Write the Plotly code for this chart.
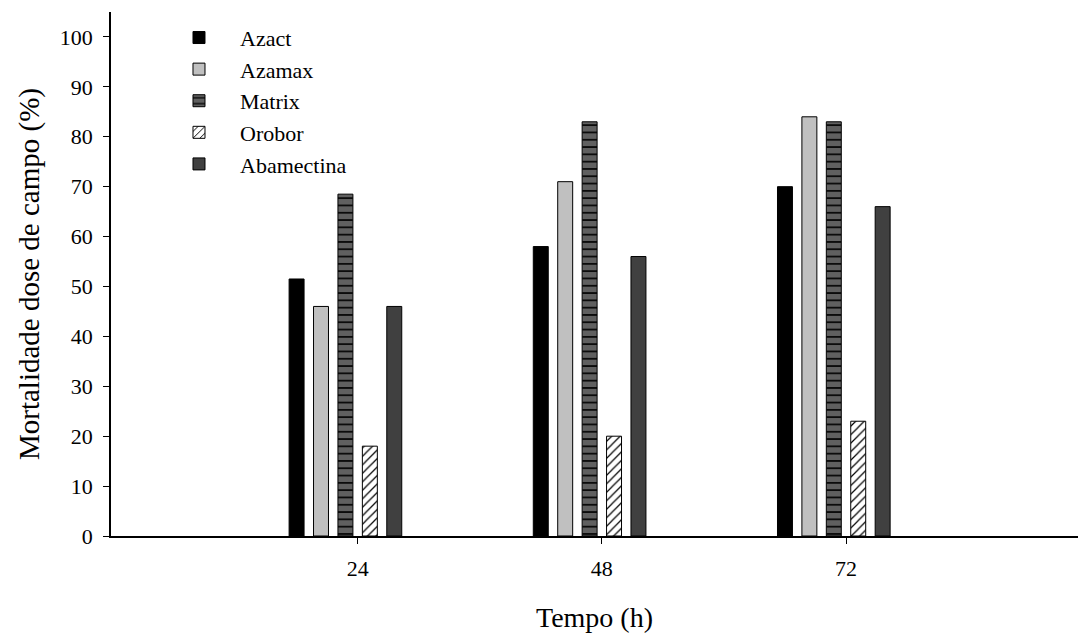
import plotly.graph_objects as go

times = ["24", "48", "72"]
series = ["Azact", "Azamax", "Matrix", "Orobor", "Abamectina"]
azact = [51.5, 58, 70]
azamax = [46, 71, 84]
matrix = [68.5, 83, 83]
orobor = [18, 20, 23]
abamectina = [46, 56, 66]
values = [azact, azamax, matrix, orobor, abamectina]

yticks = list(range(0, 101, 10))

styles = [
    dict(color="#000000"),
    dict(color="#c0c0c0"),
    dict(color="#606060", pattern=dict(shape="-", fgcolor="#000000", bgcolor="#606060", size=7.3, solidity=0.22, fillmode="replace")),
    dict(color="#ffffff", pattern=dict(shape="/", fgcolor="#000000", bgcolor="#ffffff", size=6, solidity=0.2, fillmode="replace")),
    dict(color="#404040"),
]

xpos = list(range(len(times)))
fig = go.Figure()
for name, vals, st in zip(series, values, styles):
    fig.add_trace(go.Bar(
        x=xpos, y=vals, name=name,
        marker=dict(line=dict(color="#000000", width=1), **st),
    ))

font_family = "Liberation Serif, Times New Roman, serif"
fig.update_layout(
    width=1079, height=633,
    margin=dict(l=111, r=1, t=12, b=97),
    paper_bgcolor="white", plot_bgcolor="white",
    barmode="group", bargap=0.5, bargroupgap=0.387,
    font=dict(family=font_family, size=22, color="#000000"),
    showlegend=True,
    legend=dict(
        x=0.0486, y=0.991, xanchor="left", yanchor="top",
        bgcolor="rgba(0,0,0,0)", font=dict(family=font_family, size=22),
        tracegroupgap=0, itemwidth=72,
    ),
    xaxis=dict(
        range=[-0.96, 3.0],
        tickvals=[i + 0.05 for i in xpos], ticktext=times,
        showline=True, linecolor="#000000", linewidth=1.5,
        ticks="outside", ticklen=6, tickwidth=1, tickcolor="#000000",
        showgrid=False, zeroline=False,
        ticklabelstandoff=6,
        title=dict(text="Tempo (h)", font=dict(size=28), standoff=27),
    ),
    yaxis=dict(
        range=[0, 105],
        tickvals=yticks,
        showline=True, linecolor="#000000", linewidth=1.5,
        ticks="outside", ticklen=6, tickwidth=1, tickcolor="#000000",
        showgrid=False, zeroline=False,
        ticklabelstandoff=6,
        title=dict(text="Mortalidade dose de campo (%)", font=dict(size=29), standoff=12),
    ),
)

fig.write_html("out.html", config={"displayModeBar": False},
               post_script="document.body.style.margin='0';")
